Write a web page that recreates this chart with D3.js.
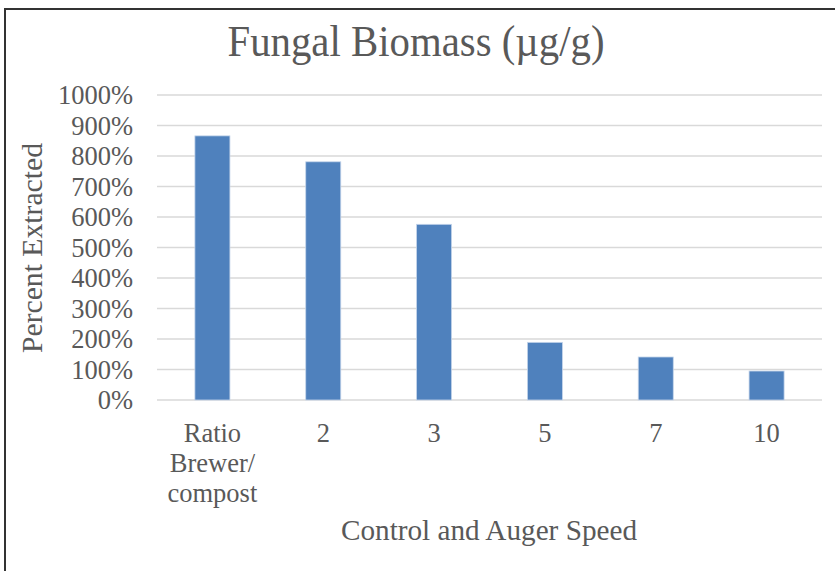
<!DOCTYPE html>
<html>
<head>
<meta charset="utf-8">
<script src="https://cdn.jsdelivr.net/npm/d3@7"></script>
<style>
  html, body { margin: 0; padding: 0; background: #fff; }
  svg { display: block; }
  text { font-family: "Liberation Serif", "DejaVu Serif", serif; fill: #595959; }
</style>
</head>
<body>
<svg id="chart" width="835" height="571"></svg>
<script>
const categories = [["Ratio", "Brewer/", "compost"], ["2"], ["3"], ["5"], ["7"], ["10"]];
const categoryKeys = ["Ratio Brewer/ compost", "2", "3", "5", "7", "10"];
const values = [8.66, 7.81, 5.76, 1.89, 1.41, 0.95];
const yTicks = [0, 1, 2, 3, 4, 5, 6, 7, 8, 9, 10];
const title = "Fungal Biomass (µg/g)";
const xTitle = "Control and Auger Speed";
const yTitle = "Percent Extracted";

const svg = d3.select("#chart");
const W = 835, H = 571;
const plot = { left: 157, right: 822, top: 95, bottom: 400 };

// frame (top and left borders only visible)
svg.append("rect").attr("x", 0).attr("y", 0).attr("width", W).attr("height", H).attr("fill", "#fff");
svg.append("line").attr("x1", 5).attr("x2", W).attr("y1", 9).attr("y2", 9)
  .attr("stroke", "#333").attr("stroke-width", 2);
svg.append("line").attr("x1", 5).attr("x2", 5).attr("y1", 8).attr("y2", H)
  .attr("stroke", "#333").attr("stroke-width", 2);

const x = d3.scaleBand().domain(categoryKeys).range([plot.left, plot.right]).paddingInner(0.684).paddingOuter(0.342);
const y = d3.scaleLinear().domain([0, 10]).range([plot.bottom, plot.top]);

// gridlines
svg.append("g").selectAll("line").data(yTicks).join("line")
  .attr("x1", plot.left).attr("x2", plot.right)
  .attr("y1", d => y(d)).attr("y2", d => y(d))
  .attr("stroke", "#d9d9d9").attr("stroke-width", 1.5);

// y tick labels
svg.append("g").selectAll("text").data(yTicks).join("text")
  .attr("x", 133).attr("y", d => y(d))
  .attr("text-anchor", "end").attr("dominant-baseline", "central")
  .attr("font-size", 26.5)
  .text(d => d3.format(".0%")(d));

// bars
svg.append("g").selectAll("rect").data(values).join("rect")
  .attr("x", (d, i) => x(categoryKeys[i]))
  .attr("width", x.bandwidth())
  .attr("y", d => y(d))
  .attr("height", d => y(0) - y(d))
  .attr("fill", "#4f81bd")
  .attr("stroke", "#c5d5ea").attr("stroke-width", 0.8);

// category labels
const cat = svg.append("g").selectAll("text").data(categories).join("text")
  .attr("x", (d, i) => x(categoryKeys[i]) + x.bandwidth() / 2)
  .attr("y", 442)
  .attr("text-anchor", "middle")
  .attr("font-size", 26.5);
cat.selectAll("tspan").data(d => d).join("tspan")
  .attr("x", function () { return d3.select(this.parentNode).attr("x"); })
  .attr("dy", (d, i) => i === 0 ? 0 : 30)
  .text(d => d);

// title
svg.append("text").attr("x", 416).attr("y", 56)
  .attr("text-anchor", "middle").attr("font-size", 44)
  .attr("textLength", 377).attr("lengthAdjust", "spacingAndGlyphs")
  .text(title);

// x axis title
svg.append("text").attr("x", 489).attr("y", 540)
  .attr("text-anchor", "middle").attr("font-size", 29)
  .attr("textLength", 296).attr("lengthAdjust", "spacingAndGlyphs")
  .text(xTitle);

// y axis title
svg.append("text")
  .attr("transform", "translate(42,248) rotate(-90)")
  .attr("text-anchor", "middle").attr("font-size", 29)
  .attr("textLength", 210).attr("lengthAdjust", "spacingAndGlyphs")
  .text(yTitle);
</script>
</body>
</html>
